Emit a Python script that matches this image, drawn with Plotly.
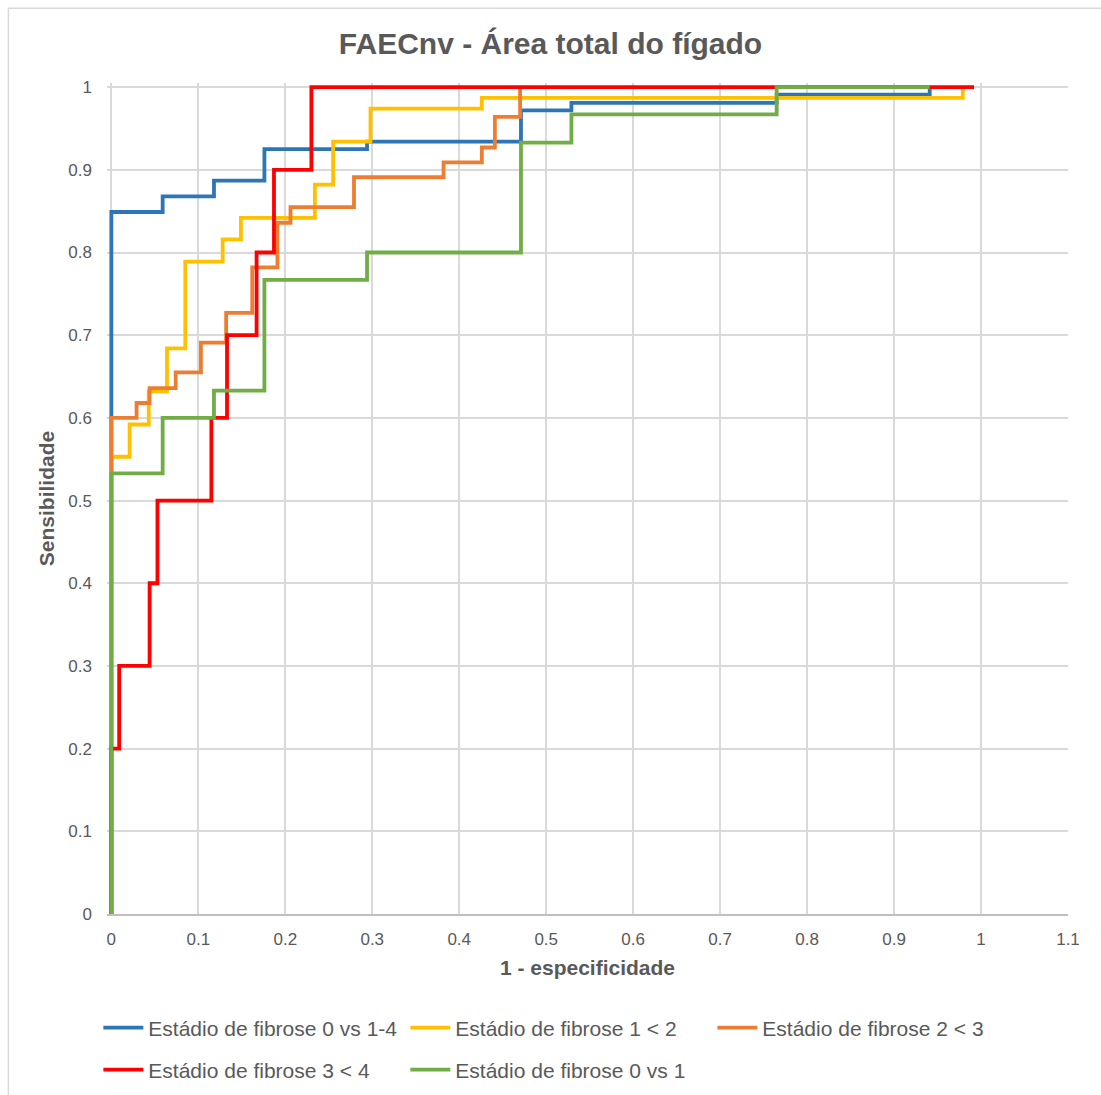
import plotly.graph_objects as go

# ROC points (1 - specificity, sensitivity) -- step vertices
names = ["Estádio de fibrose 0 vs 1-4", "Estádio de fibrose 1 < 2",
         "Estádio de fibrose 2 < 3", "Estádio de fibrose 3 < 4",
         "Estádio de fibrose 0 vs 1"]
colors = ["#2E75B6", "#FFC000", "#ED7D31", "#FF0000", "#70AD47"]
legend_rows = ["legend", "legend", "legend", "legend2", "legend2"]

fpr_0v14 = [0, 0, 0.059, 0.118, 0.176, 0.294, 0.471, 0.529, 0.765, 0.941]
tpr_0v14 = [0, 0.849, 0.868, 0.887, 0.925, 0.934, 0.972, 0.981, 0.991, 1.0]

fpr_1v2 = [0, 0, 0.021, 0.043, 0.064, 0.085, 0.128, 0.149, 0.234, 0.255, 0.298, 0.426, 0.979]
tpr_1v2 = [0, 0.553, 0.592, 0.632, 0.684, 0.789, 0.816, 0.842, 0.882, 0.934, 0.974, 0.987, 1.0]

fpr_2v3 = [0, 0, 0.029, 0.044, 0.074, 0.103, 0.132, 0.162, 0.191, 0.206, 0.279, 0.382, 0.426, 0.441, 0.47]
tpr_2v3 = [0, 0.6, 0.618, 0.636, 0.655, 0.691, 0.727, 0.782, 0.836, 0.855, 0.891, 0.909, 0.927, 0.964, 1.0]

fpr_3v4 = [0, 0, 0.009, 0.044, 0.053, 0.115, 0.133, 0.167, 0.187, 0.23, 0.992]
tpr_3v4 = [0, 0.2, 0.3, 0.4, 0.5, 0.6, 0.7, 0.8, 0.9, 1.0, 1.0]

fpr_0v1 = [0, 0, 0.059, 0.118, 0.176, 0.294, 0.471, 0.529, 0.765, 0.941]
tpr_0v1 = [0, 0.533, 0.6, 0.633, 0.767, 0.8, 0.933, 0.967, 1.0, 1.0]

series = [(fpr_0v14, tpr_0v14), (fpr_1v2, tpr_1v2), (fpr_2v3, tpr_2v3),
          (fpr_3v4, tpr_3v4), (fpr_0v1, tpr_0v1)]

x_ticks = [0, 0.1, 0.2, 0.3, 0.4, 0.5, 0.6, 0.7, 0.8, 0.9, 1, 1.1]
y_ticks = [0, 0.1, 0.2, 0.3, 0.4, 0.5, 0.6, 0.7, 0.8, 0.9, 1]

# geometry (pixels)
W, H = 1101, 1095
px_per_x = 870.0      # pixels per unit of x
px_per_y = 827.0      # pixels per unit of y
x0_px, y0_px = 111, 914
xr = [-0.005, 1.1]
yr = [0, 1.005]
left = x0_px + xr[0] * px_per_x
right = W - (x0_px + xr[1] * px_per_x)
bottom = H - y0_px
top = y0_px - yr[1] * px_per_y
pw = W - left - right
ph = H - top - bottom

fig = go.Figure()
for (xs, ys), n, c, lg in zip(series, names, colors, legend_rows):
    fig.add_trace(go.Scatter(x=xs, y=ys, mode="lines", name=n, legend=lg,
                             line=dict(color=c, width=3.8, shape="hv")))

grey = "#595959"
legfont = dict(family="Liberation Sans, Arial", size=21, color=grey)
fig.update_layout(
    width=W, height=H,
    paper_bgcolor="white", plot_bgcolor="white",
    margin=dict(l=left, r=right, t=top, b=bottom, autoexpand=False),
    title=dict(text="<b>FAECnv - Área total do fígado</b>", x=0.5, xanchor="center",
               y=1 - 43 / H, yanchor="middle",
               font=dict(family="Liberation Sans, Arial", size=30, color=grey)),
    font=dict(family="Liberation Sans, Arial", color=grey),
    xaxis=dict(range=xr, tickvals=x_ticks, ticktext=[str(v) for v in x_ticks],
               showgrid=True, gridcolor="#D9D9D9", gridwidth=1.5, zeroline=False,
               showline=True, linecolor="#BFBFBF", linewidth=1.5,
               tickfont=dict(size=17, color=grey), ticks="", ticklabelstandoff=9,
               title=dict(text="<b>1 - especificidade</b>", font=dict(size=21, color=grey), standoff=12)),
    yaxis=dict(range=yr, tickvals=y_ticks, ticktext=[str(v) for v in y_ticks],
               showgrid=True, gridcolor="#D9D9D9", gridwidth=1.5, zeroline=False,
               showline=False, tickfont=dict(size=17, color=grey), ticks="", ticklabelstandoff=14,
               title=dict(text="<b>Sensibilidade</b>", font=dict(size=21, color=grey), standoff=8)),
    legend=dict(orientation="h", x=(98 - left) / pw, xanchor="left",
                y=-(1028 - (H - bottom)) / ph, yanchor="middle",
                entrywidth=252, entrywidthmode="pixels", tracegroupgap=0,
                font=legfont, itemwidth=40, bgcolor="rgba(0,0,0,0)"),
    legend2=dict(orientation="h", x=(98 - left) / pw, xanchor="left",
                 y=-(1070 - (H - bottom)) / ph, yanchor="middle",
                 entrywidth=252, entrywidthmode="pixels", tracegroupgap=0,
                 font=legfont, itemwidth=40, bgcolor="rgba(0,0,0,0)"),
    showlegend=True,
)
fig.add_shape(type="rect", xref="paper", yref="paper",
              x0=(8 - left) / pw, x1=(W + 10 - left) / pw,
              y0=-(H + 10 - (H - bottom)) / ph, y1=1 + (top - 8) / ph,
              line=dict(color="#D9D9D9", width=1.5), layer="below")
fig.write_html("out.html")
